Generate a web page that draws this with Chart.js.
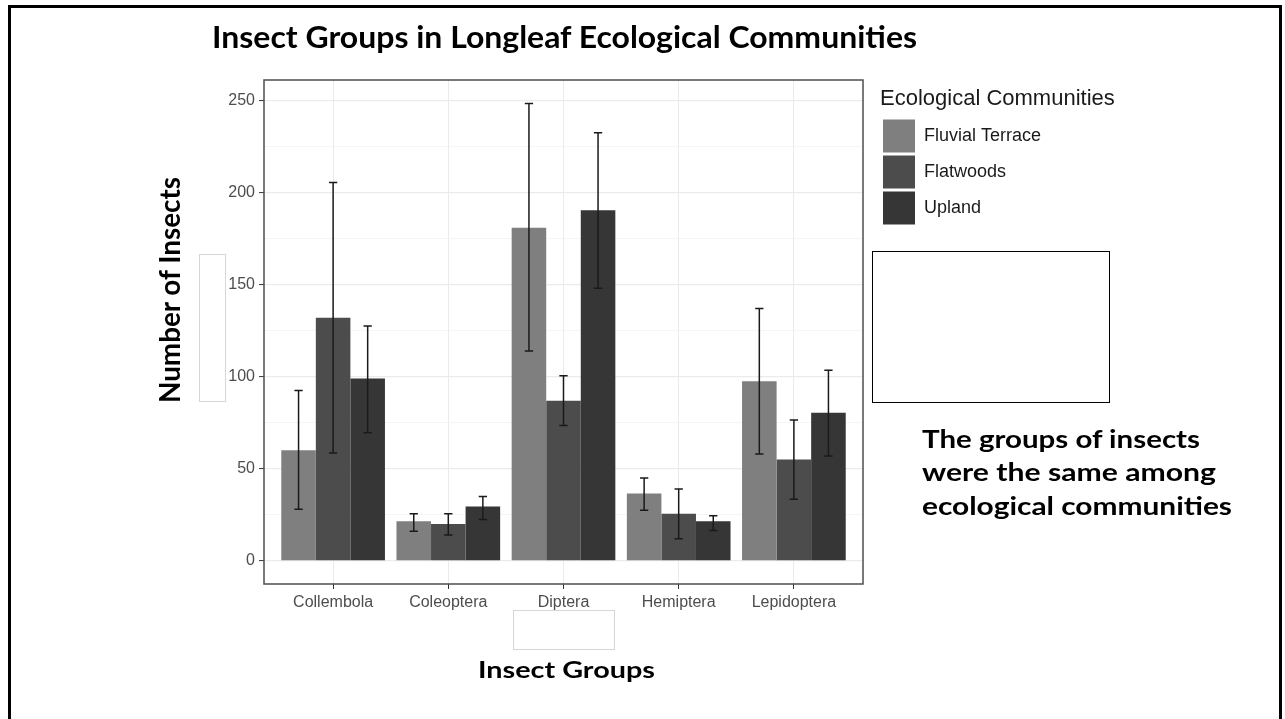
<!DOCTYPE html>
<html><head><meta charset="utf-8">
<script src="https://cdn.jsdelivr.net/npm/chart.js@4.4.1/dist/chart.umd.min.js"></script>
<style>
html,body{margin:0;padding:0;background:#fff;}
body{width:1285px;height:719px;position:relative;overflow:hidden;font-family:Lato,'Noto Sans',sans-serif;}
#c{position:absolute;left:0;top:0;}
.t{position:absolute;white-space:nowrap;font-weight:700;color:#000;line-height:1;transform-origin:0 0;display:inline-block;font-family:Lato,'Noto Sans',sans-serif;}
.box{position:absolute;box-sizing:border-box;}
</style></head><body>
<div class="box" style="left:8px;top:5px;width:1274px;height:740px;border:3px solid #000;"></div>
<canvas id="c" width="1285" height="719"></canvas>
<div class="box" style="left:199px;top:254px;width:27px;height:148px;border:1px solid #d6d6d6;"></div>
<div class="box" style="left:513px;top:610px;width:102px;height:40px;border:1px solid #d6d6d6;"></div>
<div class="box" style="left:872px;top:251px;width:238px;height:152px;border:1.5px solid #000;"></div>
<span class="t" id="mainTitle" data-w="705" style="left:212px;top:21px;font-size:30px;">Insect Groups in Longleaf Ecological Communities</span>
<span class="t" id="xTitle" data-w="177" style="left:478px;top:658px;font-size:23px;">Insect Groups</span>
<span class="t" id="yTitle" style="left:155px;top:403px;font-size:23px;">Number of Insects</span>
<span class="t" id="note1" data-w="278" style="left:922px;top:426px;font-size:25px;">The groups of insects</span>
<span class="t" id="note2" data-w="294" style="left:922px;top:459px;font-size:25px;">were the same among</span>
<span class="t" id="note3" data-w="310" style="left:922px;top:493px;font-size:25px;">ecological communities</span>
<script>
// ---- data ----
const categories = ['Collembola', 'Coleoptera', 'Diptera', 'Hemiptera', 'Lepidoptera'];
const communities = ['Fluvial Terrace', 'Flatwoods', 'Upland'];
const fluvialMean = [60, 21.5, 181, 36.5, 97.5];
const fluvialLow  = [28, 16, 114, 27.5, 58];
const fluvialHigh = [92.5, 25.5, 248.5, 45, 137];
const flatwoodsMean = [132, 20, 87, 25.5, 55];
const flatwoodsLow  = [58.5, 14, 73.5, 12, 33.5];
const flatwoodsHigh = [205.5, 25.5, 100.5, 39, 76.5];
const uplandMean = [99, 29.5, 190.5, 21.5, 80.5];
const uplandLow  = [69.5, 22.5, 148, 16.5, 57];
const uplandHigh = [127.5, 35, 232.5, 24.5, 103.5];
const yTickValues = [0, 25, 50, 75, 100, 125, 150, 175, 200, 225, 250];
const yLabelStep = 50;

const colors = ['#7f7f7f', '#4c4c4c', '#363636'];
const tickFont = {family: "'Liberation Sans', Arial, sans-serif", size: 16};

const toPoints = arr => arr.map((v, i) => ({x: i, y: v}));
const datasets = [
  {label: communities[0], data: toPoints(fluvialMean), errLow: fluvialLow, errHigh: fluvialHigh},
  {label: communities[1], data: toPoints(flatwoodsMean), errLow: flatwoodsLow, errHigh: flatwoodsHigh},
  {label: communities[2], data: toPoints(uplandMean), errLow: uplandLow, errHigh: uplandHigh}
].map((d, i) => Object.assign(d, {
  backgroundColor: colors[i], borderColor: colors[i], borderWidth: 0,
  categoryPercentage: 0.9, barPercentage: 1.0
}));

const errorBars = {
  id: 'errorBars',
  afterDatasetsDraw(chart) {
    const ctx = chart.ctx, y = chart.scales.y;
    ctx.save();
    ctx.strokeStyle = '#1a1a1a';
    ctx.lineWidth = 1.5;
    chart.data.datasets.forEach((ds, i) => {
      const meta = chart.getDatasetMeta(i);
      meta.data.forEach((bar, j) => {
        const lo = y.getPixelForValue(ds.errLow[j]);
        const hi = y.getPixelForValue(ds.errHigh[j]);
        const hw = bar.width * 0.12;
        ctx.beginPath();
        ctx.moveTo(bar.x, lo); ctx.lineTo(bar.x, hi);
        ctx.moveTo(bar.x - hw, lo); ctx.lineTo(bar.x + hw, lo);
        ctx.moveTo(bar.x - hw, hi); ctx.lineTo(bar.x + hw, hi);
        ctx.stroke();
      });
    });
    ctx.restore();
  }
};
const frame = {
  id: 'frame',
  afterDraw(chart) {
    const {left, top, right, bottom} = chart.chartArea;
    const ctx = chart.ctx;
    ctx.save();
    ctx.strokeStyle = '#4d4d4d';
    ctx.lineWidth = 1.5;
    ctx.strokeRect(left, top, right - left, bottom - top);
    ctx.restore();
  }
};
// give the legend box a fixed width wide enough for its title
const legendWidth = {
  id: 'legendWidth',
  beforeLayout(chart) {
    const lg = chart.legend;
    if (lg && !lg._fixedWidth) {
      const orig = lg.fit.bind(lg);
      lg.fit = function () { orig(); this.width = 250; };
      lg._fixedWidth = true;
    }
  }
};

new Chart(document.getElementById('c'), {
  type: 'bar',
  data: {datasets},
  plugins: [errorBars, frame, legendWidth],
  options: {
    responsive: false,
    animation: false,
    devicePixelRatio: 1,
    layout: {padding: {left: 200, top: 80, right: 155, bottom: 0}},
    scales: {
      x: {
        type: 'linear', min: -0.6, max: 4.6, offset: false,
        afterBuildTicks: s => { s.ticks = categories.map((c, i) => ({value: i})); },
        afterFit: s => { s.height = 135; },
        grid: {offset: false, color: '#ebebeb', lineWidth: 1, tickColor: '#333333', tickLength: 5, tickWidth: 1},
        border: {display: false},
        ticks: {callback: v => categories[v] ?? '', color: '#4d4d4d', font: tickFont, padding: 4, maxRotation: 0, autoSkip: false}
      },
      y: {
        type: 'linear', min: -12.6, max: 261.2,
        afterBuildTicks: s => { s.ticks = yTickValues.map(v => ({value: v})); },
        afterFit: s => { s.width = 64; },
        grid: {
          color: c => (c.tick && c.tick.value % yLabelStep === 0) ? '#ebebeb' : '#f3f3f3',
          lineWidth: c => (c.tick && c.tick.value % yLabelStep === 0) ? 1.2 : 0.8,
          tickColor: c => (c.tick && c.tick.value % yLabelStep === 0) ? '#333333' : 'rgba(0,0,0,0)',
          tickLength: 5, tickWidth: 1
        },
        border: {display: false},
        ticks: {callback: v => (v % yLabelStep === 0 ? String(v) : ''), color: '#4d4d4d', font: tickFont, padding: 4, autoSkip: false}
      },
      yR: {
        type: 'linear', position: 'right', display: true,
        grid: {display: false, drawTicks: false}, ticks: {display: false}, border: {display: false},
        afterFit: s => { s.width = 17; }
      }
    },
    plugins: {
      tooltip: {enabled: false},
      legend: {
        position: 'right', align: 'start', fullSize: false,
        title: {display: true, text: 'Ecological Communities', position: 'start', color: '#1a1a1a',
                font: {family: "'Liberation Sans', Arial, sans-serif", size: 22}, padding: {top: 8, bottom: 2}},
        labels: {boxWidth: 32, boxHeight: 33, padding: 3, color: '#1a1a1a',
                 font: {family: "'Liberation Sans', Arial, sans-serif", size: 18}}
      }
    }
  }
});

// fit slide text boxes to their measured widths
document.querySelectorAll('.t[data-w]').forEach(el => {
  const w = el.getBoundingClientRect().width;
  el.style.transform = 'scaleX(' + (parseFloat(el.dataset.w) / w) + ')';
});
const yt = document.getElementById('yTitle');
const ytw = yt.getBoundingClientRect().width;
yt.style.transform = 'rotate(-90deg) scale(' + (226 / ytw) + ',1.25)';
</script>
</body></html>
